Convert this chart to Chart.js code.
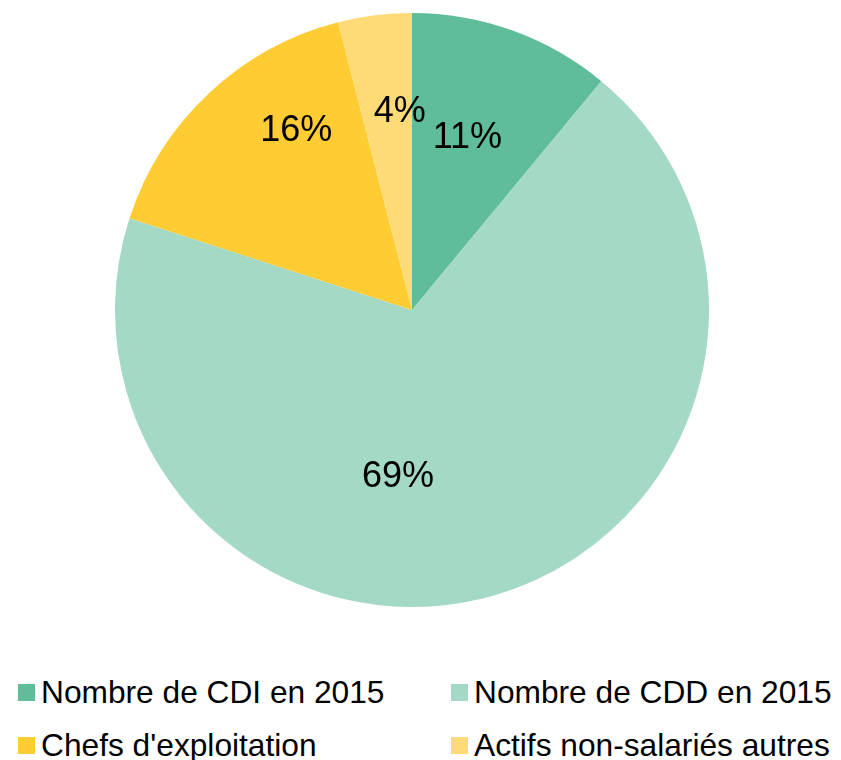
<!DOCTYPE html>
<html>
<head>
<meta charset="utf-8">
<script src="https://cdn.jsdelivr.net/npm/chart.js@4.4.0/dist/chart.umd.min.js"></script>
<style>
  body { margin: 0; background: #fff; font-family: "Liberation Sans", Arial, sans-serif; }
  #wrap { position: relative; width: 841px; height: 760px; overflow: hidden; }
  #pieBox { position: absolute; left: 0; top: 0; width: 841px; height: 620px; }
  .item { position: absolute; display: flex; align-items: center; height: 31px;
          font-size: 31.7px; line-height: 31px; color: #000; white-space: nowrap; }
  .item .sw { width: 17px; height: 17px; margin-right: 6px; flex: none; }
</style>
</head>
<body>
<div id="wrap">
  <div id="pieBox"><canvas id="pie"></canvas></div>
  <div id="legend"></div>
</div>
<script>
// répartition des actifs agricoles (%)
const categories = [
  "Nombre de CDI en 2015",
  "Nombre de CDD en 2015",
  "Chefs d'exploitation",
  "Actifs non-salariés autres"
];
const shares = [11, 69, 16, 4];
const colors = ["#60bd9a", "#a3d9c5", "#ffcc33", "#ffdb77"];

// where each percentage sits inside its slice: fraction of radius, angle shift (deg)
const labelRadius = [0.61, 0.56, 0.72, 0.67];
const labelShift = [-2, 21, 10.4, 3.7];

// legend grid: two columns, two rows
const legendCols = [18, 451];
const legendRows = [677, 729.5];

const pctLabels = {
  id: "pctLabels",
  afterDatasetsDraw(chart) {
    const ctx = chart.ctx;
    const meta = chart.getDatasetMeta(0);
    ctx.save();
    ctx.font = '36px "Liberation Sans", Arial, sans-serif';
    ctx.fillStyle = "#000";
    ctx.textAlign = "center";
    ctx.textBaseline = "middle";
    meta.data.forEach((arc, i) => {
      const p = arc.getProps(["x", "y", "startAngle", "endAngle", "outerRadius"], true);
      const a = (p.startAngle + p.endAngle) / 2 + labelShift[i] * Math.PI / 180;
      const r = p.outerRadius * labelRadius[i];
      ctx.fillText(shares[i] + "%", p.x + Math.cos(a) * r, p.y + Math.sin(a) * r + 1);
    });
    ctx.restore();
  }
};

new Chart(document.getElementById("pie"), {
  type: "pie",
  data: {
    labels: categories,
    datasets: [{
      data: shares,
      backgroundColor: colors,
      borderWidth: 0
    }]
  },
  options: {
    responsive: true,
    maintainAspectRatio: false,
    animation: false,
    layout: { padding: { top: 13, bottom: 13, left: 0, right: 17 } },
    plugins: {
      legend: { display: false },
      tooltip: { enabled: false }
    }
  },
  plugins: [pctLabels]
});

// html legend
const legend = document.getElementById("legend");
categories.forEach((name, i) => {
  const el = document.createElement("div");
  el.className = "item";
  el.style.left = legendCols[i % 2] + "px";
  el.style.top = legendRows[Math.floor(i / 2)] + "px";
  el.innerHTML = '<span class="sw" style="background:' + colors[i] + '"></span><span>' + name + '</span>';
  legend.appendChild(el);
});
</script>
</body>
</html>
